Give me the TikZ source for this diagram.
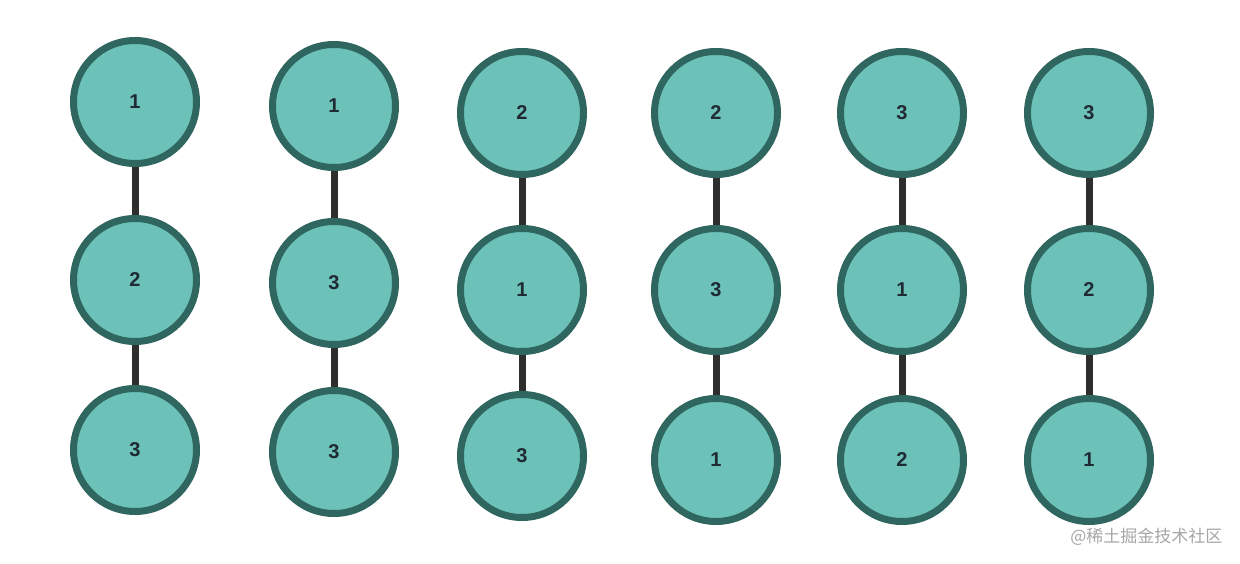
\documentclass[tikz,border=0pt]{standalone}
\usepackage{fontspec}
\setmainfont{Liberation Sans}
\newfontfamily\cjk{Noto Sans CJK SC}
\definecolor{fillteal}{HTML}{6CC2B8}
\definecolor{edgeteal}{HTML}{2F665F}
\definecolor{linkgray}{HTML}{2E2E2E}
\definecolor{numtext}{HTML}{1F2A33}
\begin{document}
\begin{tikzpicture}[x=1pt,y=-1pt,
  ball/.style={circle,draw=edgeteal,fill=fillteal,line width=7pt,minimum size=123pt,inner sep=0pt,
    font=\fontsize{20}{22}\selectfont\bfseries,text=numtext},
  link/.style={draw=linkgray,line width=7pt}]
\useasboundingbox (0,0) rectangle (1240,564);
% column 1
\node[ball] (a1) at (135,102) {1};
\node[ball] (a2) at (135,280) {2};
\node[ball] (a3) at (135,450) {3};
% column 2
\node[ball] (b1) at (334,106) {1};
\node[ball] (b2) at (334,283) {3};
\node[ball] (b3) at (334,452) {3};
% column 3
\node[ball] (c1) at (522,113) {2};
\node[ball] (c2) at (522,290) {1};
\node[ball] (c3) at (522,456) {3};
% column 4
\node[ball] (d1) at (716,113) {2};
\node[ball] (d2) at (716,290) {3};
\node[ball] (d3) at (716,460) {1};
% column 5
\node[ball] (e1) at (902,113) {3};
\node[ball] (e2) at (902,290) {1};
\node[ball] (e3) at (902,460) {2};
% column 6
\node[ball] (f1) at (1089,113) {3};
\node[ball] (f2) at (1089,290) {2};
\node[ball] (f3) at (1089,460) {1};
\foreach \c in {a,b,c,d,e,f}{
  \draw[link] (\c1) -- (\c2);
  \draw[link] (\c2) -- (\c3);
}
\node[anchor=east,text=black!35,font=\cjk\fontsize{17}{19}\selectfont] (wm) at (1226,537) {@稀土掘金技术社区};
\end{tikzpicture}
\end{document}
